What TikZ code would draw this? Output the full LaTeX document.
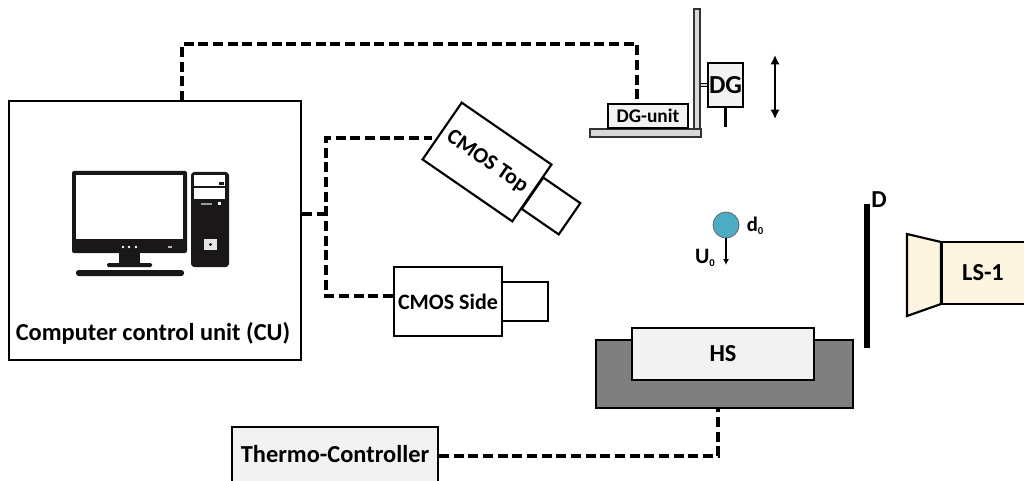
\documentclass[tikz,border=0pt]{standalone}
\usepackage{fontspec}
\setmainfont{Carlito}
\usetikzlibrary{arrows.meta}
\definecolor{lsfill}{HTML}{FDF5E0}
\definecolor{hsbase}{HTML}{7F7F7F}
\definecolor{hstop}{HTML}{F2F2F2}
\definecolor{standfill}{HTML}{D9D9D9}
\definecolor{drop}{HTML}{4BACC6}
\definecolor{pcdark}{HTML}{1A1718}
\tikzset{
  sz/.style n args={2}{minimum width=#1*0.75pt,minimum height=#2*0.75pt},
  blk/.style={draw=black,line width=1.6pt,inner sep=0pt,font=\bfseries\fontsize{16.5}{18}\selectfont},
  thin blk/.style={draw=black,line width=1.4pt,inner sep=0pt,font=\bfseries\fontsize{14.5}{16}\selectfont},
  standpart/.style={draw=black!80,line width=1pt,fill=standfill,inner sep=0pt},
  link/.style={line width=2.3pt,dash pattern=on 7.5pt off 3.5pt},
  lab/.style={inner sep=0pt,font=\bfseries\fontsize{16.5}{18}\selectfont},
  biglab/.style={inner sep=0pt,font=\bfseries\fontsize{18.3}{20}\selectfont},
  pc/.style={fill=pcdark,draw=none},
  pcw/.style={fill=white,draw=none},
}
\begin{document}
\begin{tikzpicture}[x=0.75pt,y=-0.75pt]
\clip (0,0) rectangle (1024,481);
\fill[white] (0,0) rectangle (1024,481);

% boxes
\node[blk,sz={292}{259}] (cu) at (155,230.5) {};
\node[biglab] (cutext) at (153,333) {Computer control unit (CU)};
\node[blk,fill=white,sz={45}{38},rotate=-34.6] (clens) at (551,206) {};
\node[blk,fill=white,sz={109}{69},rotate=-34.6] (ctop) at (487,162) {CMOS Top};
\node[blk,sz={46}{39}] (slens) at (525,301.5) {};
\node[blk,fill=white,sz={108}{69}] (cside) at (448,301.5) {CMOS Side};
\node[draw=black,line width=1.6pt,fill=hsbase,inner sep=0pt,sz={257}{68}] (hsb) at (724.5,374) {};
\node[blk,fill=hstop,sz={182}{52},font=\bfseries\fontsize{18.3}{20}\selectfont] (hs) at (723,354) {HS};
\node[blk,fill=hstop,sz={206}{70}] (tc) at (335,462) {};
\node[biglab] (tctext) at (335,454) {Thermo-Controller};

% dg stand
\node[standpart,sz={6}{120}] (post) at (697,69) {};
\node[standpart,sz={111}{8}] (base) at (645.5,133) {};
\node[thin blk,fill=hstop,sz={80}{24}] (dgu) at (648,116) {DG-unit};
\node[blk,fill=hstop,sz={35}{44},font=\bfseries\fontsize{19.5}{21}\selectfont] (dg) at (725.5,85) {DG};
\draw[line width=0.7pt,double=standfill,double distance=1.2pt] (post.east|-dg.west) -- (dg.west);
\coordinate (dgtip) at (725.5,127);
\draw[line width=1.6pt] (dg.south) -- (dgtip);
\coordinate (ua) at (775,55);
\coordinate (ub) at (775,119);
\draw[line width=1.4pt,{Latex[length=7pt,width=7pt]}-{Latex[length=7pt,width=7pt]}] (ua) -- (ub);

% droplet
\node[circle,draw=black!60,line width=0.6pt,fill=drop,minimum size=26*0.75pt,inner sep=0pt] (drop) at (726,225) {};
\coordinate (droptip) at (726,265);
\draw[line width=1pt,-{Latex[length=4.5pt,width=4.5pt]}] (drop.south) -- (droptip);
\node[lab,font=\bfseries\fontsize{15.5}{17}\selectfont] (d0) at (755,226) {d\raisebox{-2pt}{\fontsize{8}{9}\selectfont 0}};
\node[lab,font=\bfseries\fontsize{16.5}{18}\selectfont] (u0) at (705,258) {U\raisebox{-2pt}{\fontsize{8}{9}\selectfont 0}};

% diaphragm
\coordinate (da) at (867,204);
\coordinate (db) at (867,348);
\draw[line width=3.8pt] (da) -- (db);
\node[biglab] (dlab) at (879,200) {D};

% LS
\draw[blk,fill=lsfill] (907,234) -- (941,242) -- (941,304) -- (907,316) -- cycle;
\node[blk,fill=lsfill,sz={100}{62},anchor=west] (ls) at (941,273) {};
\node[biglab] (lstext) at (983,273) {LS-1};

% connectors
\coordinate (j) at (326,214);
\draw[link] (cu.east|-j) -- (j);
\draw[link] (cside.west|-0,296) -- (326,296) -- (326,138) -- (432,138);
\draw[link] (182,101) -- (182,44) -- (637,44) -- (637,104);
\draw[link] (tc.east|-0,456) -- (718,456) -- (718,408);

% computer
\fill[pc,rounded corners=1.5pt] (72,171) rectangle (187,253);
\fill[pcw] (76,175) rectangle (183,239);
\foreach \bx in {123,129,136} \fill[white] (\bx,247) circle (1.3);
\fill[white!70!black] (168,246) rectangle (172,248);
\fill[pc] (119,253) rectangle (140,263);
\fill[pc,rounded corners=1pt] (107,263) rectangle (152,267);
\fill[pc,rounded corners=2pt] (76,270) rectangle (184,276);
\fill[pc,rounded corners=2.5pt] (191,172) rectangle (229,267);
\fill[pcw] (193.5,175) rectangle (225,186);
\fill[pcw] (193.5,188) rectangle (225,199);
\fill[pc] (219,182) rectangle (224,185);
\fill[white] (218,202) rectangle (221,205);
\fill[white!60!black] (201,203) rectangle (212,204.5);
\fill[white!90!black] (204,239) rectangle (217,250);
\fill[pc] (210.5,244.5) circle (1.6);
\end{tikzpicture}
\end{document}
